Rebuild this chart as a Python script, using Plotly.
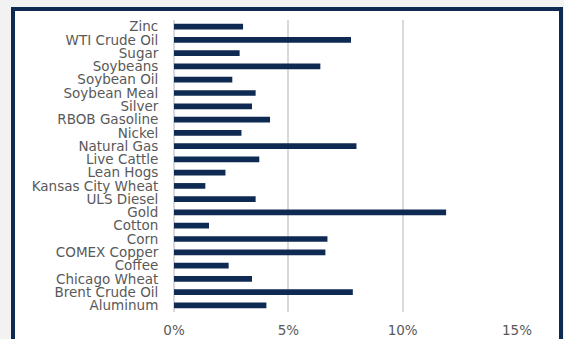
import plotly.graph_objects as go

commodities = ["Zinc", "WTI Crude Oil", "Sugar", "Soybeans", "Soybean Oil", "Soybean Meal",
               "Silver", "RBOB Gasoline", "Nickel", "Natural Gas", "Live Cattle", "Lean Hogs",
               "Kansas City Wheat", "ULS Diesel", "Gold", "Cotton", "Corn", "COMEX Copper",
               "Coffee", "Chicago Wheat", "Brent Crude Oil", "Aluminum"]
weights = [0.0302, 0.0774, 0.0287, 0.0640, 0.0255, 0.0357,
           0.0341, 0.0420, 0.0295, 0.0798, 0.0373, 0.0225,
           0.0137, 0.0357, 0.1190, 0.0153, 0.0671, 0.0662,
           0.0239, 0.0341, 0.0782, 0.0404]
x_ticks = [0, 0.05, 0.10, 0.15]

NAVY = "#0f2a52"
FONT = "DejaVu Sans"
W, H = 564, 339
L, R, T, B = 174, 47, 20, 27
pw, ph = W - L - R, H - T - B

def px_x(p):
    return (p - L) / pw

def px_y(p):
    return 1 - (p - T) / ph

fig = go.Figure(go.Bar(
    y=commodities, x=weights, orientation="h",
    marker=dict(color=NAVY, line=dict(width=0)),
))

border = dict(color=NAVY, width=4)
fig.update_layout(
    width=W, height=H,
    margin=dict(l=L, r=R, t=T, b=B, pad=0),
    paper_bgcolor="#f2f2f2",
    plot_bgcolor="rgba(0,0,0,0)",
    bargap=0.57,
    showlegend=False,
    font=dict(family=FONT, size=13, color="#595959"),
    xaxis=dict(range=[0, 0.15], tickvals=x_ticks, tickformat=".0%",
               showgrid=True, gridcolor="#d9d9d9", gridwidth=1.5,
               zeroline=True, zerolinecolor="#d9d9d9", zerolinewidth=1.5,
               showline=False, ticks="outside", ticklen=6, tickcolor="rgba(0,0,0,0)",
               automargin=False,
               tickfont=dict(family=FONT, size=13.5, color="#595959")),
    yaxis=dict(autorange="reversed", showgrid=False,
               ticks="outside", ticklen=12, tickcolor="rgba(0,0,0,0)",
               tickmode="array", tickvals=commodities, ticktext=commodities,
               automargin=False,
               tickfont=dict(family=FONT, size=13.5, color="#595959")),
    shapes=[
        dict(type="rect", xref="paper", yref="paper",
             x0=px_x(13), x1=px_x(561), y0=px_y(9), y1=px_y(339),
             line=dict(width=0), fillcolor="white", layer="below"),
        dict(type="line", xref="paper", yref="paper",
             x0=px_x(11), x1=px_x(563), y0=px_y(9), y1=px_y(9), line=border),
        dict(type="line", xref="paper", yref="paper",
             x0=px_x(13), x1=px_x(13), y0=px_y(9), y1=px_y(345), line=border),
        dict(type="line", xref="paper", yref="paper",
             x0=px_x(561), x1=px_x(561), y0=px_y(9), y1=px_y(345), line=border),
    ],
)

fig.write_html("out.html")
